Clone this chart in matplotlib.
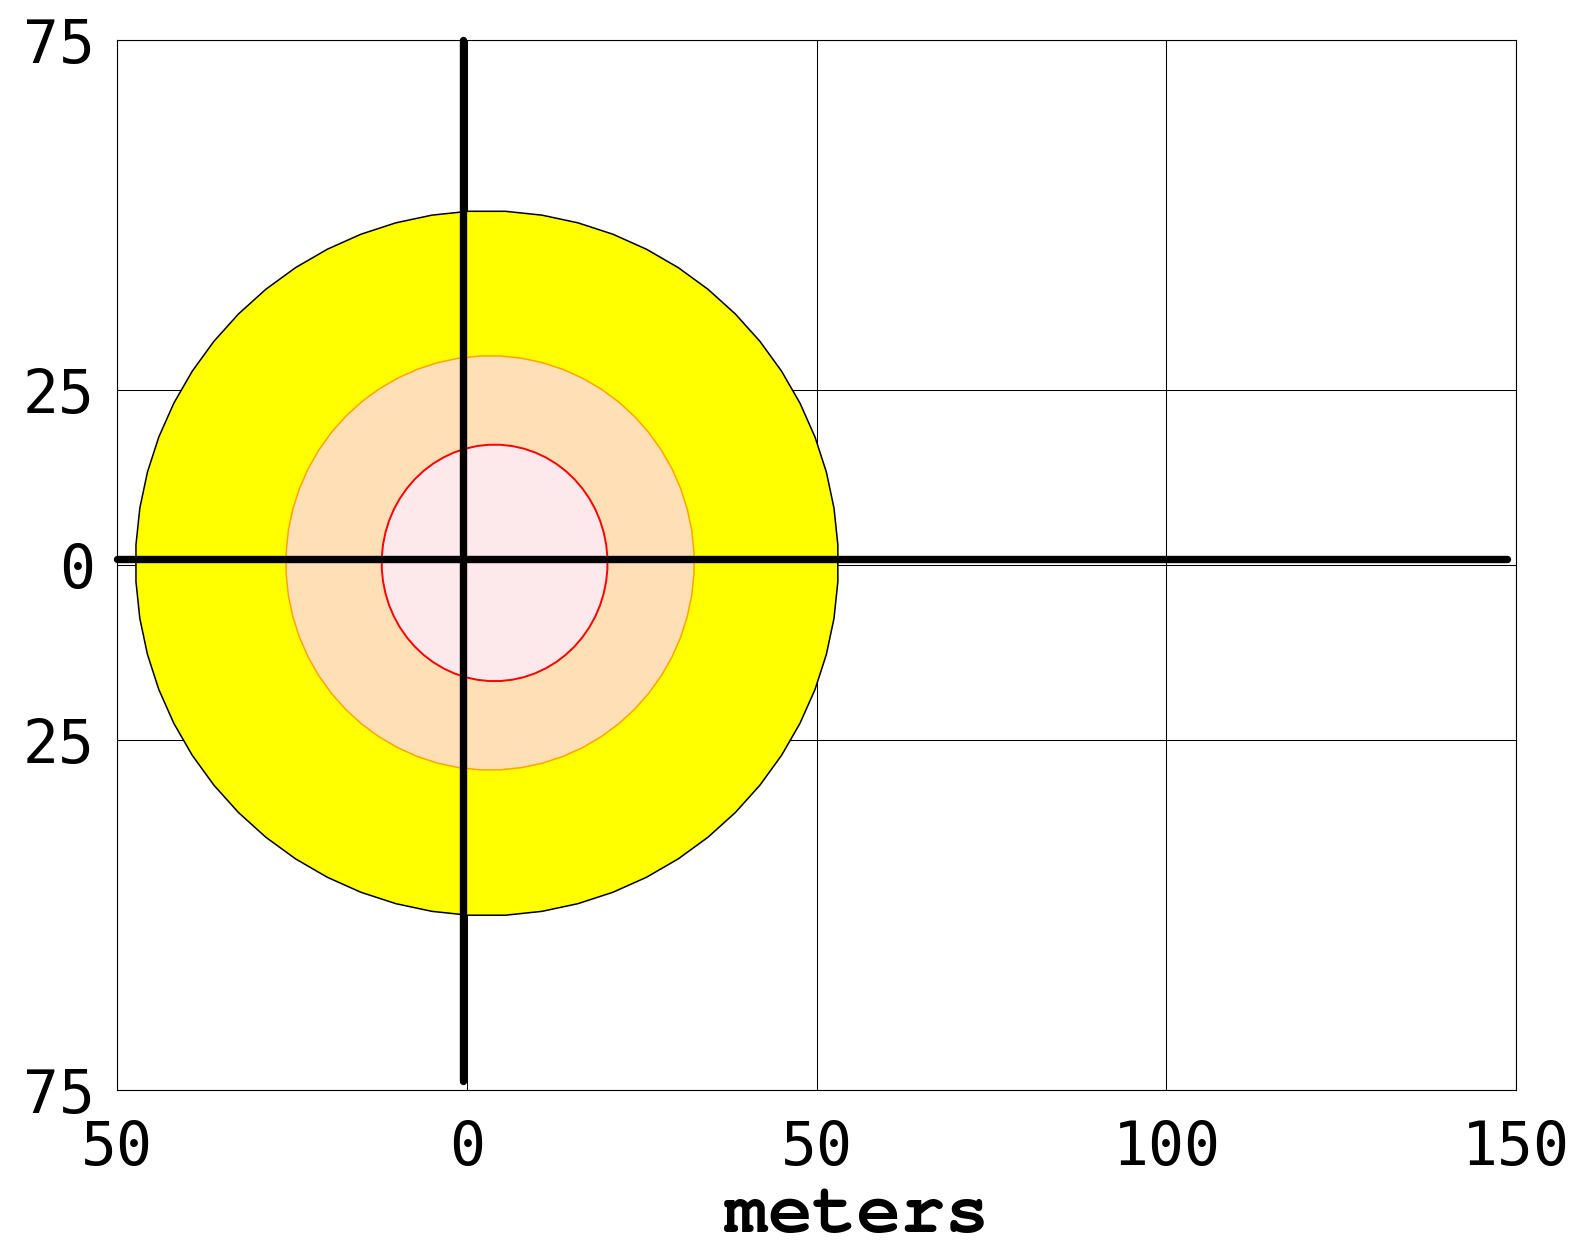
import numpy as np
from matplotlib import pyplot as plt
from matplotlib.patches import Polygon

# --- data ---

XTICKS = [-50, 0, 50, 100, 150]
XTICK_LABELS = ['50', '0', '50', '100', '150']
YTICKS = [75, 25, 0, -25, -75]
YTICK_LABELS = ['75', '25', '0', '25', '75']

# hazard zones, outer to inner (meters)
ZONE_CX = [2.85, 3.3, 3.95]
ZONE_CY = [0.25, 0.3, 0.3]
ZONE_RX = [50.25, 29.2, 16.15]
ZONE_RY = [50.35, 29.6, 16.9]

# reference cross
CROSS_H_X = [-50, 148.7]
CROSS_H_Y = [0.85, 0.85]
CROSS_V_X = [-0.55, -0.55]
CROSS_V_Y = [75, -73.7]

# --- style ---
ZONE_FACE = ['#FFFF00', '#FFDFB6', '#FDE8EC']
ZONE_EDGE = ['black', '#FFA500', 'red']
ZONE_LW = [1.1, 1.1, 1.4]
N_SIDES = 60

fig = plt.figure(figsize=(15.83, 12.42), dpi=100)
ax = fig.add_axes([117.3 / 1583, 1 - 1090 / 1242, (1516 - 117.3) / 1583, 1050 / 1242])

ax.set_xlim(-50, 150)
ax.set_ylim(-75, 75)

ang = np.linspace(0, 2 * np.pi, N_SIDES, endpoint=False) + np.pi / N_SIDES
for cx, cy, rx, ry, fc, ec, lw in zip(ZONE_CX, ZONE_CY, ZONE_RX, ZONE_RY,
                                       ZONE_FACE, ZONE_EDGE, ZONE_LW):
    pts = np.column_stack([cx + rx * np.cos(ang), cy + ry * np.sin(ang)])
    ax.add_patch(Polygon(pts, closed=True, facecolor=fc, edgecolor=ec,
                         linewidth=lw, zorder=2))

ax.plot(CROSS_H_X, CROSS_H_Y, color='black', lw=5.3, solid_capstyle='round',
        zorder=4, clip_on=False)
ax.plot(CROSS_V_X, CROSS_V_Y, color='black', lw=5.3, solid_capstyle='round',
        zorder=4, clip_on=False)

ax.set_xticks(XTICKS)
ax.set_xticklabels(XTICK_LABELS)
ax.set_yticks(YTICKS)
ax.set_yticklabels(YTICK_LABELS)
ax.tick_params(length=0, labelsize=43)
ax.tick_params(axis='x', pad=21)
ax.tick_params(axis='y', pad=16)
for lab in ax.get_xticklabels() + ax.get_yticklabels():
    lab.set_family('DejaVu Sans Mono')

ax.grid(True, color='black', lw=0.75)
ax.set_axisbelow(True)
for sp in ax.spines.values():
    sp.set_linewidth(0.8)

# courier-like bold for the axis title
fig.text(857 / 1583, 1 - 1232 / 1242, 'meters', ha='center', va='baseline',
         family=['FreeMono', 'DejaVu Sans Mono'], weight='bold', fontsize=53)

plt.savefig('out.png', dpi=100)
